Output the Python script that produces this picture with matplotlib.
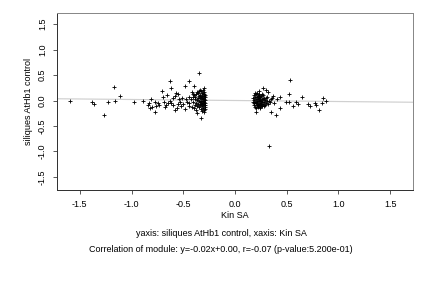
import numpy as np
import matplotlib
matplotlib.use("Agg")
import matplotlib.pyplot as plt

plt.rcParams['font.family'] = ['Liberation Sans', 'DejaVu Sans']

# points (x = Kin SA, y = siliques AtHb1 control)
left_x = [-1.59, -1.38, -1.36, -1.27, -1.23, -1.17, -1.16, -1.11, -0.975, -0.885,
          -0.845, -0.83, -0.81, -0.82, -0.80, -0.775, -0.775, -0.73, -0.71, -0.69,
          -0.68, -0.66, -0.65, -0.63, -0.63, -0.62, -0.60, -0.60, -0.58, -0.57,
          -0.56, -0.55, -0.55, -0.52, -0.50, -0.48, -0.48, -0.46, -0.44, -0.44,
          -0.44, -0.42, -0.41, -0.40, -0.39, -0.37, -0.345, -0.33, -0.30, -0.30,
          -0.62, -0.54, -0.51, -0.47, -0.53, -0.58, -0.67, -0.74, -0.76, -0.70]
left_y = [0.00, -0.02, -0.07, -0.29, -0.03, 0.27, 0.00, 0.09, -0.03, 0.00,
          -0.08, -0.05, 0.02, -0.14, -0.12, -0.02, -0.22, -0.08, 0.19, -0.03,
          -0.12, 0.11, -0.05, 0.39, 0.00, 0.24, -0.09, 0.04, -0.18, 0.15,
          -0.14, 0.12, -0.06, -0.11, -0.06, 0.29, -0.16, -0.03, 0.39, 0.07,
          -0.11, 0.17, 0.12, 0.28, 0.07, -0.25, 0.54, -0.35, 0.24, 0.17,
          -0.05, 0.02, 0.05, 0.03, -0.02, 0.08, -0.08, -0.04, -0.10, 0.06]

left_dense_x = [-0.44, -0.43, -0.42, -0.41, -0.41, -0.40, -0.40, -0.39, -0.39, -0.38,
                -0.38, -0.38, -0.37, -0.37, -0.36, -0.36, -0.36, -0.35, -0.35, -0.35,
                -0.34, -0.34, -0.34, -0.34, -0.33, -0.33, -0.33, -0.33, -0.32, -0.32,
                -0.32, -0.32, -0.32, -0.31, -0.31, -0.31, -0.31, -0.31, -0.30, -0.30,
                -0.30, -0.30, -0.30, -0.30, -0.29, -0.29, -0.29, -0.29, -0.29, -0.29,
                -0.33, -0.31, -0.30, -0.35, -0.37, -0.29, -0.32, -0.34]
left_dense_y = [-0.05, 0.02, -0.12, 0.06, -0.02, -0.15, 0.10, 0.03, -0.08, -0.04,
                0.12, -0.18, 0.01, -0.10, 0.05, -0.06, 0.14, -0.13, 0.00, 0.08,
                -0.03, -0.09, 0.04, 0.11, -0.16, -0.01, 0.07, -0.06, 0.02, -0.11,
                0.09, -0.04, 0.15, -0.07, 0.00, 0.05, -0.14, 0.12, -0.19, -0.09,
                -0.02, 0.03, 0.08, 0.13, -0.12, -0.05, 0.01, 0.06, 0.10, -0.16,
                0.18, 0.20, -0.22, 0.19, 0.16, -0.08, -0.20, 0.21]

right_x = [0.27, 0.23, 0.30, 0.32, 0.37, 0.43, 0.53, 0.52, 0.52, 0.20,
           0.345, 0.40, 0.435, 0.33, 0.49, 0.565, 0.59, 0.605, 0.65, 0.71,
           0.726, 0.77, 0.78, 0.81, 0.845, 0.855, 0.88, 0.38, 0.41, 0.36]
right_y = [0.24, 0.19, 0.21, 0.17, 0.09, 0.06, 0.40, 0.13, -0.025, -0.22,
           -0.22, -0.29, -0.14, -0.89, -0.02, -0.11, -0.02, -0.06, 0.075, -0.07,
           -0.10, -0.055, -0.09, -0.19, -0.055, 0.04, -0.01, -0.05, 0.02, 0.05]

right_dense_x = [0.17, 0.17, 0.18, 0.18, 0.18, 0.19, 0.19, 0.19, 0.20, 0.20,
                 0.20, 0.20, 0.21, 0.21, 0.21, 0.21, 0.22, 0.22, 0.22, 0.22,
                 0.23, 0.23, 0.23, 0.23, 0.24, 0.24, 0.24, 0.24, 0.25, 0.25,
                 0.25, 0.26, 0.26, 0.26, 0.27, 0.27, 0.27, 0.28, 0.28, 0.29,
                 0.29, 0.30, 0.30, 0.31, 0.31, 0.32, 0.33, 0.34, 0.35, 0.24,
                 0.19, 0.22, 0.26, 0.28, 0.21, 0.25, 0.23, 0.18]
right_dense_y = [-0.02, 0.05, -0.08, 0.01, 0.10, -0.12, -0.03, 0.06, -0.05, 0.02,
                 0.12, -0.14, -0.09, 0.00, 0.07, -0.02, -0.06, 0.03, 0.09, -0.11,
                 -0.01, 0.04, -0.08, 0.13, -0.04, 0.01, 0.06, -0.12, -0.07, 0.00,
                 0.08, -0.03, 0.03, -0.10, -0.06, 0.02, 0.10, -0.02, 0.05, -0.08,
                 0.01, -0.04, 0.04, -0.01, 0.07, -0.06, 0.00, -0.03, 0.02, -0.15,
                 0.14, -0.13, 0.12, -0.11, 0.15, -0.09, 0.11, -0.05]

slope, intercept = -0.02, 0.00
x_ticks = [-1.5, -1.0, -0.5, 0.0, 0.5, 1.0, 1.5]
y_ticks = [-1.5, -1.0, -0.5, 0.0, 0.5, 1.0, 1.5]

fs = 9

fig = plt.figure(figsize=(6, 4), dpi=72)
ax = fig.add_axes([0.132, 0.340, 0.824, 0.615])

xs = left_x + left_dense_x + right_x + right_dense_x
ys = left_y + left_dense_y + right_y + right_dense_y

xlim = (-1.72, 1.72)
ax.plot(xlim, [slope * xlim[0] + intercept, slope * xlim[1] + intercept],
        color='#d0d0d0', linewidth=1.2, zorder=1)
ax.scatter(xs, ys, marker='+', s=20, color='black', linewidths=0.85, zorder=2)

ax.set_xlim(*xlim)
ax.set_ylim(-1.76, 1.72)
ax.set_xticks(x_ticks)
ax.set_yticks(y_ticks)
ax.set_xticklabels([f'{v:.1f}' for v in x_ticks])
ax.set_yticklabels([f'{v:.1f}' for v in y_ticks], rotation=90, va='center')
ax.tick_params(axis='both', direction='out', length=4, width=0.8, labelsize=fs,
               color='#333333')
ax.tick_params(axis='x', pad=6)
ax.tick_params(axis='y', pad=6)

for side in ['left', 'bottom']:
    ax.spines[side].set_color('#333333')
for side in ['top', 'right']:
    ax.spines[side].set_color('#888888')
for sp in ax.spines.values():
    sp.set_linewidth(1)

ax.set_xlabel('Kin SA', fontsize=fs, labelpad=2)
ax.set_ylabel('siliques AtHb1 control', fontsize=fs, labelpad=5)

fig.text(0.512, 1 - 233 / 288, 'yaxis: siliques AtHb1 control, xaxis: Kin SA',
         ha='center', va='center', fontsize=fs)
fig.text(0.512, 1 - 250 / 288,
         'Correlation of module: y=-0.02x+0.00, r=-0.07 (p-value:5.200e-01)',
         ha='center', va='center', fontsize=fs)

fig.savefig('out.png', dpi=72)
